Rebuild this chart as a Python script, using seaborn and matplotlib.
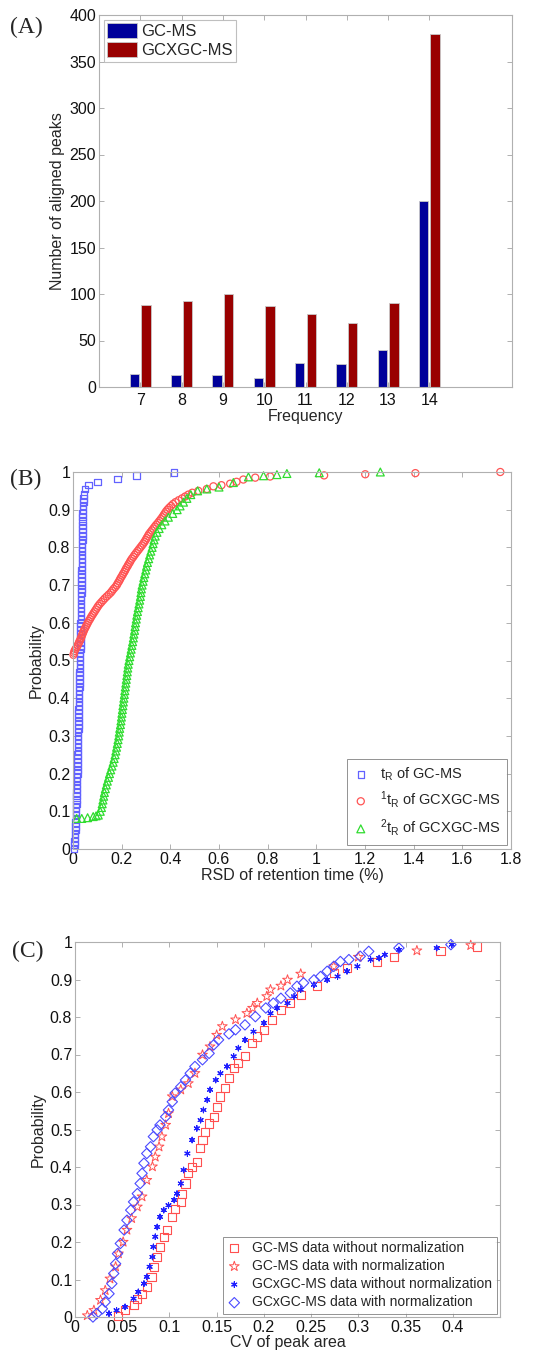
import numpy as np
import pandas as pd
import matplotlib
matplotlib.use("Agg")
import matplotlib.pyplot as plt
import seaborn as sns

# ---------------- Panel A data ----------------
freq = [7, 8, 9, 10, 11, 12, 13, 14]
gcms_peaks = [14, 13, 13, 10, 26, 25, 40, 200]
gcxgc_peaks = [88, 92, 100, 87, 78, 69, 90, 380]
a_series = ["GC-MS", "GCXGC-MS"]
a_yticks = [0, 50, 100, 150, 200, 250, 300, 350, 400]

# ---------------- Panel B data ----------------
b_gc_x = [0.004, 0.006, 0.007, 0.008, 0.009, 0.010, 0.010, 0.011, 0.012, 0.012,
          0.013, 0.013, 0.014, 0.014, 0.015, 0.015, 0.016, 0.016, 0.017, 0.017,
          0.018, 0.018, 0.018, 0.019, 0.019, 0.019, 0.020, 0.020, 0.020, 0.021,
          0.021, 0.021, 0.022, 0.022, 0.022, 0.023, 0.023, 0.023, 0.024, 0.024,
          0.025, 0.025, 0.025, 0.026, 0.026, 0.026, 0.027, 0.027, 0.028, 0.028,
          0.029, 0.029, 0.029, 0.030, 0.030, 0.030, 0.030, 0.031, 0.031, 0.031,
          0.031, 0.032, 0.032, 0.032, 0.033, 0.033, 0.033, 0.033, 0.034, 0.034,
          0.034, 0.035, 0.035, 0.035, 0.035, 0.036, 0.036, 0.036, 0.037, 0.037,
          0.037, 0.037, 0.038, 0.038, 0.038, 0.039, 0.039, 0.039, 0.040, 0.040,
          0.041, 0.042, 0.043, 0.044, 0.046, 0.049,
          0.063, 0.100, 0.182, 0.262, 0.415]
b_gc_y = [0.00, 0.01, 0.02, 0.03, 0.04, 0.05, 0.06, 0.07, 0.08, 0.09,
          0.10, 0.11, 0.12, 0.13, 0.14, 0.15, 0.16, 0.17, 0.18, 0.19,
          0.20, 0.21, 0.22, 0.23, 0.24, 0.25, 0.26, 0.27, 0.28, 0.29,
          0.30, 0.31, 0.32, 0.33, 0.34, 0.35, 0.36, 0.37, 0.38, 0.39,
          0.40, 0.41, 0.42, 0.43, 0.44, 0.45, 0.46, 0.47, 0.48, 0.49,
          0.50, 0.51, 0.52, 0.53, 0.54, 0.55, 0.56, 0.57, 0.58, 0.59,
          0.60, 0.61, 0.62, 0.63, 0.64, 0.65, 0.66, 0.67, 0.68, 0.69,
          0.70, 0.71, 0.72, 0.73, 0.74, 0.75, 0.76, 0.77, 0.78, 0.79,
          0.80, 0.81, 0.82, 0.83, 0.84, 0.85, 0.86, 0.87, 0.88, 0.89,
          0.90, 0.91, 0.92, 0.93, 0.94, 0.955,
          0.965, 0.974, 0.982, 0.991, 0.998]

b_t1_x = [0.002, 0.004, 0.006, 0.010, 0.015, 0.019, 0.023, 0.026, 0.030, 0.033,
          0.036, 0.039, 0.042, 0.045, 0.049, 0.053, 0.057, 0.061, 0.065, 0.070,
          0.074, 0.079, 0.084, 0.089, 0.094, 0.099, 0.104, 0.110, 0.117, 0.124,
          0.131, 0.139, 0.147, 0.155, 0.161, 0.167, 0.174, 0.180, 0.184, 0.189,
          0.193, 0.197, 0.202, 0.206, 0.211, 0.215, 0.219, 0.224, 0.228, 0.233,
          0.237, 0.242, 0.248, 0.253, 0.259, 0.265, 0.271, 0.277, 0.283, 0.289,
          0.294, 0.299, 0.303, 0.308, 0.312, 0.318, 0.324, 0.330, 0.336, 0.342,
          0.349, 0.355, 0.361, 0.367, 0.372, 0.377, 0.382, 0.388, 0.395, 0.403,
          0.411, 0.421, 0.434, 0.448, 0.461, 0.474, 0.490, 0.515,
          0.550, 0.577, 0.610, 0.646, 0.672, 0.700, 0.749, 0.810,
          1.032, 1.201, 1.407, 1.756]
b_t1_y = [0.515, 0.520, 0.525, 0.530, 0.535, 0.540, 0.545, 0.550, 0.555, 0.560,
          0.565, 0.570, 0.575, 0.580, 0.585, 0.590, 0.595, 0.600, 0.605, 0.610,
          0.615, 0.620, 0.625, 0.630, 0.635, 0.640, 0.645, 0.650, 0.655, 0.660,
          0.665, 0.670, 0.675, 0.680, 0.685, 0.690, 0.695, 0.700, 0.705, 0.710,
          0.715, 0.720, 0.725, 0.730, 0.735, 0.740, 0.745, 0.750, 0.755, 0.760,
          0.765, 0.770, 0.775, 0.780, 0.785, 0.790, 0.795, 0.800, 0.805, 0.810,
          0.815, 0.820, 0.825, 0.830, 0.835, 0.840, 0.845, 0.850, 0.855, 0.860,
          0.865, 0.870, 0.875, 0.880, 0.885, 0.890, 0.895, 0.900, 0.905, 0.910,
          0.915, 0.920, 0.925, 0.930, 0.935, 0.940, 0.945, 0.950,
          0.955, 0.962, 0.965, 0.969, 0.974, 0.980, 0.985, 0.988,
          0.991, 0.994, 0.997, 1.0]

b_t2_x = [0.015, 0.036, 0.060, 0.083, 0.095,
          0.104, 0.112, 0.117, 0.120, 0.123, 0.126, 0.129, 0.133, 0.137, 0.141,
          0.146, 0.150, 0.155, 0.160, 0.165, 0.169, 0.173, 0.176, 0.179, 0.182,
          0.185, 0.188, 0.190, 0.192, 0.195, 0.197, 0.199, 0.201, 0.203, 0.205,
          0.207, 0.209, 0.211, 0.213, 0.215, 0.217, 0.219, 0.221, 0.223, 0.225,
          0.227, 0.230, 0.233, 0.236, 0.239, 0.242, 0.245, 0.248, 0.250, 0.253,
          0.255, 0.257, 0.260, 0.262, 0.265, 0.268, 0.271, 0.274, 0.277, 0.279,
          0.281, 0.284, 0.288, 0.291, 0.295, 0.299, 0.302, 0.306, 0.311, 0.315,
          0.320, 0.325, 0.329, 0.333, 0.338, 0.345, 0.354, 0.365, 0.378, 0.392,
          0.410, 0.428, 0.440, 0.454, 0.468, 0.484, 0.512,
          0.550, 0.600, 0.659, 0.721, 0.783, 0.838, 0.879, 1.012, 1.263]
b_t2_y = [0.081, 0.081, 0.083, 0.086, 0.088,
          0.09, 0.10, 0.11, 0.12, 0.13, 0.14, 0.15, 0.16, 0.17, 0.18,
          0.19, 0.20, 0.21, 0.22, 0.23, 0.24, 0.25, 0.26, 0.27, 0.28,
          0.29, 0.30, 0.31, 0.32, 0.33, 0.34, 0.35, 0.36, 0.37, 0.38,
          0.39, 0.40, 0.41, 0.42, 0.43, 0.44, 0.45, 0.46, 0.47, 0.48,
          0.49, 0.50, 0.51, 0.52, 0.53, 0.54, 0.55, 0.56, 0.57, 0.58,
          0.59, 0.60, 0.61, 0.62, 0.63, 0.64, 0.65, 0.66, 0.67, 0.68,
          0.69, 0.70, 0.71, 0.72, 0.73, 0.74, 0.75, 0.76, 0.77, 0.78,
          0.79, 0.80, 0.81, 0.82, 0.83, 0.84, 0.85, 0.86, 0.87, 0.88,
          0.89, 0.90, 0.91, 0.92, 0.93, 0.94, 0.95,
          0.955, 0.960, 0.972, 0.987, 0.990, 0.993, 0.996, 0.998, 1.0]
b_labels = [r"$t_R$ of GC-MS", r"$^1t_R$ of GCXGC-MS", r"$^2t_R$ of GCXGC-MS"]
b_xticks = [0, 0.2, 0.4, 0.6, 0.8, 1.0, 1.2, 1.4, 1.6, 1.8]
b_xticklabels = ["0", "0.2", "0.4", "0.6", "0.8", "1", "1.2", "1.4", "1.6", "1.8"]
prob_ticks = [0, 0.1, 0.2, 0.3, 0.4, 0.5, 0.6, 0.7, 0.8, 0.9, 1.0]
prob_ticklabels = ["0", "0.1", "0.2", "0.3", "0.4", "0.5", "0.6", "0.7", "0.8", "0.9", "1"]

# ---------------- Panel C data ----------------
c_gc_raw_x = [0.046, 0.053, 0.062, 0.066, 0.071, 0.076, 0.081, 0.084, 0.087, 0.090,
              0.094, 0.097, 0.103, 0.106, 0.112, 0.113, 0.117, 0.120, 0.124, 0.129,
              0.132, 0.135, 0.138, 0.142, 0.147, 0.150, 0.154, 0.159, 0.163, 0.168,
              0.173, 0.180, 0.187, 0.193, 0.200, 0.209, 0.218, 0.228, 0.239, 0.256,
              0.274, 0.288, 0.320, 0.338, 0.387, 0.426]
c_gc_raw_y = [0.002, 0.018, 0.031, 0.049, 0.062, 0.080, 0.107, 0.134, 0.160, 0.187,
              0.214, 0.232, 0.267, 0.289, 0.307, 0.329, 0.356, 0.383, 0.401, 0.414,
              0.450, 0.472, 0.494, 0.516, 0.534, 0.561, 0.588, 0.610, 0.637, 0.663,
              0.677, 0.695, 0.730, 0.748, 0.766, 0.793, 0.819, 0.837, 0.859, 0.882,
              0.917, 0.931, 0.946, 0.960, 0.975, 0.988]
c_gc_norm_x = [0.013, 0.020, 0.027, 0.032, 0.037, 0.043, 0.046, 0.051, 0.055, 0.060,
               0.066, 0.071, 0.076, 0.082, 0.085, 0.089, 0.092, 0.096, 0.099, 0.103,
               0.112, 0.120, 0.127, 0.135, 0.143, 0.150, 0.156, 0.170, 0.182, 0.188,
               0.193, 0.203, 0.207, 0.218, 0.225, 0.239, 0.274, 0.300, 0.362, 0.419]
c_gc_norm_y = [0.004, 0.018, 0.045, 0.071, 0.102, 0.134, 0.169, 0.200, 0.232, 0.263,
               0.294, 0.321, 0.365, 0.401, 0.427, 0.454, 0.481, 0.512, 0.543, 0.588,
               0.606, 0.623, 0.650, 0.699, 0.721, 0.752, 0.775, 0.793, 0.810, 0.824,
               0.837, 0.855, 0.873, 0.883, 0.899, 0.915, 0.935, 0.960, 0.977, 0.991]
c_gcxgc_raw_x = [0.036, 0.044, 0.053, 0.062, 0.067, 0.073, 0.076, 0.079, 0.082, 0.083,
                 0.085, 0.087, 0.090, 0.094, 0.099, 0.105, 0.108, 0.112, 0.115, 0.119,
                 0.124, 0.129, 0.133, 0.136, 0.140, 0.143, 0.149, 0.154, 0.161, 0.168,
                 0.173, 0.180, 0.189, 0.200, 0.207, 0.214, 0.225, 0.232, 0.239, 0.253,
                 0.267, 0.278, 0.288, 0.299, 0.313, 0.322, 0.328, 0.343, 0.383, 0.399]
c_gcxgc_raw_y = [0.009, 0.018, 0.027, 0.049, 0.067, 0.089, 0.107, 0.134, 0.160, 0.187,
                 0.214, 0.240, 0.267, 0.285, 0.298, 0.312, 0.329, 0.356, 0.392, 0.436,
                 0.472, 0.503, 0.525, 0.552, 0.579, 0.606, 0.632, 0.650, 0.668, 0.695,
                 0.717, 0.739, 0.761, 0.784, 0.810, 0.824, 0.837, 0.855, 0.873, 0.886,
                 0.899, 0.908, 0.922, 0.935, 0.953, 0.957, 0.966, 0.979, 0.984, 0.993]
c_gcxgc_norm_x = [0.019, 0.023, 0.029, 0.032, 0.036, 0.039, 0.041, 0.043, 0.045, 0.048,
                  0.052, 0.055, 0.059, 0.062, 0.066, 0.069, 0.071, 0.073, 0.076, 0.080,
                  0.083, 0.087, 0.090, 0.096, 0.099, 0.103, 0.106, 0.112, 0.117, 0.122,
                  0.127, 0.135, 0.142, 0.147, 0.152, 0.163, 0.170, 0.180, 0.191, 0.202,
                  0.210, 0.218, 0.228, 0.235, 0.242, 0.253, 0.260, 0.267, 0.274, 0.281,
                  0.290, 0.302, 0.311, 0.343, 0.398]
c_gcxgc_norm_y = [0.000, 0.009, 0.022, 0.040, 0.062, 0.089, 0.116, 0.142, 0.169, 0.196,
                  0.232, 0.258, 0.285, 0.307, 0.329, 0.356, 0.383, 0.410, 0.436, 0.454,
                  0.481, 0.499, 0.512, 0.534, 0.552, 0.574, 0.597, 0.614, 0.632, 0.650,
                  0.668, 0.686, 0.703, 0.726, 0.739, 0.755, 0.766, 0.779, 0.801, 0.824,
                  0.837, 0.850, 0.864, 0.882, 0.891, 0.899, 0.908, 0.922, 0.935, 0.948,
                  0.953, 0.962, 0.975, 0.984, 0.993]
c_labels = ["GC-MS data without normalization", "GC-MS data with normalization",
            "GCxGC-MS data without normalization", "GCxGC-MS data with normalization"]
c_xticks = [0, 0.05, 0.1, 0.15, 0.2, 0.25, 0.3, 0.35, 0.4]
c_xticklabels = ["0", "0.05", "0.1", "0.15", "0.2", "0.25", "0.3", "0.35", "0.4"]

# ---------------- Style ----------------
sns.set_theme(style="white")
plt.rcParams["font.family"] = ["Liberation Sans", "DejaVu Sans"]
plt.rcParams["mathtext.default"] = "regular"
plt.rcParams["mathtext.fontset"] = "custom"
plt.rcParams["mathtext.rm"] = "Liberation Sans"
plt.rcParams["mathtext.it"] = "Liberation Sans"
SPINE = "#b0b0b0"
FS = 11.5

fig = plt.figure(figsize=(5.35, 13.55), dpi=100)
W, H = 535.0, 1355.0


def add_axes(l, r, t, b):
    return fig.add_axes([l / W, 1 - b / H, (r - l) / W, (b - t) / H])


def style_axes(ax, xpad=2):
    for s in ax.spines.values():
        s.set_color(SPINE)
        s.set_linewidth(0.8)
        s.set_visible(True)
    ax.tick_params(direction="in", length=3.5, width=0.7, color=SPINE,
                   top=True, right=True, bottom=True, left=True,
                   labelsize=FS, labelcolor="#111111", pad=2)
    ax.tick_params(axis="x", pad=xpad)


def scatter(ax, x, y, marker, s, col, lw, label, hollow=True):
    sns.scatterplot(x=x, y=y, marker=marker, s=s, linewidth=lw,
                    edgecolor=col, facecolor="none" if hollow else col,
                    ax=ax, label=label, clip_on=False)
    coll = ax.collections[-1]
    coll.set_edgecolor(col)
    coll.set_facecolor("none" if hollow else col)
    coll.set_linewidth(lw)


# ---------------- Panel A ----------------
axA = add_axes(99, 512, 15, 387)
dfA = pd.DataFrame({
    "Frequency": [str(f) for f in freq] * 2,
    "Peaks": gcms_peaks + gcxgc_peaks,
    "Platform": [a_series[0]] * len(freq) + [a_series[1]] * len(freq),
})
sns.barplot(data=dfA, x="Frequency", y="Peaks", hue="Platform",
            palette=["#00009a", "#990000"], width=0.56, gap=0.18,
            edgecolor="#c8c8c8", linewidth=0.6, saturation=1, ax=axA)
axA.set_xlim(-1, 9)
axA.set_ylim(0, 400)
axA.set_yticks(a_yticks)
axA.set_xlabel("Frequency", fontsize=FS, labelpad=1)
axA.set_ylabel("Number of aligned peaks", fontsize=FS, labelpad=3)
style_axes(axA, xpad=4)
legA = axA.legend(loc="upper left", fontsize=FS + 0.5, frameon=True, fancybox=False,
                  edgecolor=SPINE, borderaxespad=0.3, handlelength=1.8,
                  handleheight=1.0, handletextpad=0.2, borderpad=0.2,
                  labelspacing=0.15)
legA.get_frame().set_linewidth(0.8)

# ---------------- Panel B ----------------
axB = add_axes(73, 511, 472, 849)
scatter(axB, b_gc_x, b_gc_y, "s", 22, "#6262ff", 0.9, b_labels[0])
scatter(axB, b_t1_x, b_t1_y, "o", 26, "#ff5454", 0.9, b_labels[1])
scatter(axB, b_t2_x, b_t2_y, "^", 32, "#2fdc2f", 0.9, b_labels[2])
axB.set_xlim(0, 1.8)
axB.set_ylim(0, 1)
axB.set_xticks(b_xticks)
axB.set_xticklabels(b_xticklabels)
axB.set_yticks(prob_ticks)
axB.set_yticklabels(prob_ticklabels)
axB.set_xlabel("RSD of retention time (%)", fontsize=FS, labelpad=1)
axB.set_ylabel("Probability", fontsize=FS, labelpad=3)
style_axes(axB)
legB = axB.legend(loc="lower right", fontsize=10.5, frameon=True, fancybox=False,
                  edgecolor="#777777", borderaxespad=0.3, handlelength=1.0,
                  handletextpad=0.8, borderpad=0.45, labelspacing=0.45)
legB.get_frame().set_linewidth(0.7)

# ---------------- Panel C ----------------
axC = add_axes(75, 500, 942, 1317)
scatter(axC, c_gc_raw_x, c_gc_raw_y, "s", 34, "#ff5050", 0.8, c_labels[0])
scatter(axC, c_gc_norm_x, c_gc_norm_y, "*", 55, "#ff5050", 0.7, c_labels[1])
scatter(axC, c_gcxgc_raw_x, c_gcxgc_raw_y, (6, 2, 0), 16, "#1f1fff", 0.8, c_labels[2])
scatter(axC, c_gcxgc_norm_x, c_gcxgc_norm_y, "D", 28, "#4a4aff", 0.8, c_labels[3])
axC.set_xlim(0, 0.45)
axC.set_ylim(0, 1)
axC.set_xticks(c_xticks)
axC.set_xticklabels(c_xticklabels)
axC.set_yticks(prob_ticks)
axC.set_yticklabels(prob_ticklabels)
axC.set_xlabel("CV of peak area", fontsize=FS, labelpad=0)
axC.set_ylabel("Probability", fontsize=FS, labelpad=3)
style_axes(axC)
legC = axC.legend(loc="lower right", fontsize=10, frameon=True, fancybox=False,
                  edgecolor="#777777", borderaxespad=0.25, handlelength=1.0,
                  handletextpad=0.8, borderpad=0.3, labelspacing=0.3)
legC.get_frame().set_linewidth(0.7)

# ---------------- Panel letters ----------------
for lab, xx, yy in [("(A)", 10, 27), ("(B)", 10, 479), ("(C)", 12, 951)]:
    fig.text(xx / W, 1 - yy / H, lab, fontsize=17, family=["Liberation Serif", "DejaVu Serif"],
             va="center", ha="left")

fig.savefig("out.png", dpi=100)
